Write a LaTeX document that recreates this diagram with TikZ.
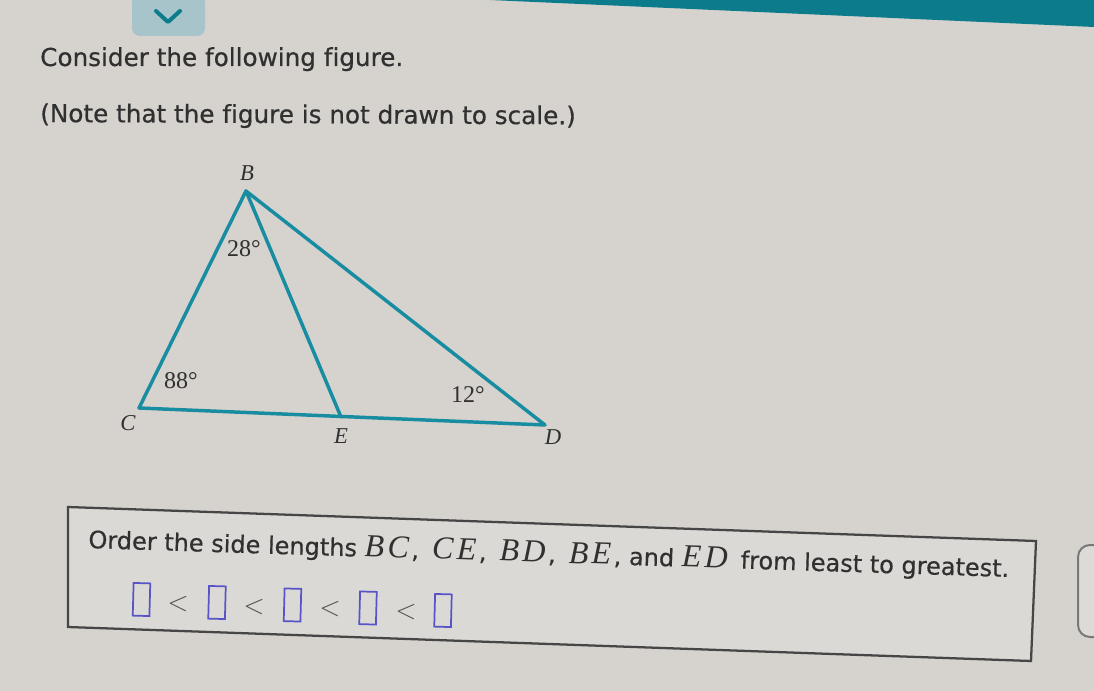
\documentclass[tikz,border=0pt]{standalone}
\usepackage{fontspec}
\setmainfont{Liberation Serif}
\newfontfamily\uifont{DejaVu Sans}[Ligatures=NoCommon, FakeBold=0.5]
\newfontfamily\lblfont{Liberation Serif}
\definecolor{bgc}{RGB}{214,211,207}
\definecolor{boxfillc}{RGB}{219,217,213}
\definecolor{tealbar}{RGB}{12,124,140}
\definecolor{tealline}{RGB}{24,140,160}
\definecolor{btnc}{RGB}{166,196,202}
\definecolor{txtc}{RGB}{48,48,48}
\definecolor{ansc}{RGB}{88,84,200}
\definecolor{boxline}{RGB}{70,70,70}
\definecolor{widgetc}{RGB}{120,120,120}
\newcommand\sidelbl[2]{{\lblfont\itshape\fontsize{24}{24}\selectfont #1\kern2.5pt #2\kern2pt}}
\begin{document}
\begin{tikzpicture}[x=0.75pt,y=0.75pt,
  edge/.style={draw=tealline, line width=2.6pt, line join=round, line cap=round},
  vlbl/.style={font=\lblfont\itshape\fontsize{17}{17}\selectfont, text=txtc, inner sep=0pt},
  anglbl/.style={font=\lblfont\fontsize{18}{18}\selectfont, text=txtc, inner sep=0pt},
  ui/.style={font=\uifont\fontsize{18.5}{18.5}\selectfont, text=txtc, inner sep=0pt},
  uibox/.style={font=\uifont\fontsize{18}{18}\selectfont, text=txtc, inner sep=0pt},
  ansbox/.style={draw=ansc, line width=1.3pt, minimum width=12.5pt, minimum height=24.5pt, inner sep=0pt, rotate=-1.5},
  ltsign/.style={font=\fontsize{21}{21}\selectfont, text=txtc!85, inner sep=0pt, rotate=-1.5}
]
\useasboundingbox (0,0) rectangle (1094,-691);
\fill[bgc] (0,0) rectangle (1094,-691);
% top teal bar
\fill[tealbar] (490,0) -- (1094,0) -- (1094,-27) -- cycle;
% chevron button
\fill[btnc, rounded corners=6pt] (132,6) rectangle (205,-36);
\draw[tealbar, line width=3pt, line cap=round, line join=round] (156,-11) -- (168,-22) -- (180,-11);
% header texts
\node[ui, anchor=base west] (t1) at (40,-66) {Consider the following figure.};
\node[ui, anchor=base west, rotate=-0.25] (t2) at (40,-122) {(Note that the figure is not drawn to scale.)};
% triangle
\coordinate (B) at (246,-191);
\coordinate (C) at (139,-408);
\coordinate (E) at (341,-417);
\coordinate (D) at (545,-425);
\draw[edge] (C) -- (B) -- (D) -- cycle;
\draw[edge] (B) -- (E);
\node[vlbl] (lB) at (247,-173) {B};
\node[vlbl] (lC) at (128,-423) {C};
\node[vlbl] (lE) at (341,-436) {E};
\node[vlbl] (lD) at (553,-437) {D};
\node[anglbl] (a28) at (244,-249) {28°};
\node[anglbl] (a88) at (181,-381) {88°};
\node[anglbl] (a12) at (468,-395) {12°};
% question box
\draw[boxline, line width=1.7pt, fill=boxfillc] (68,-507) -- (1036,-541) -- (1031,-661) -- (68,-627) -- cycle;
\node[uibox, anchor=base west, rotate=-1.8] (q) at (88,-548)
  {Order the side lengths \sidelbl{B}{C}, \hspace{4pt}\sidelbl{C}{E}, \hspace{4pt}\sidelbl{B}{D}, \hspace{4pt}\sidelbl{B}{E}, and \sidelbl{E}{D} \hspace{2pt}from least to greatest.};
% answer row
\node[ansbox] (b1) at (141.5,-599.5) {};
\node[ansbox] (b2) at (217,-602.5) {};
\node[ansbox] (b3) at (292.5,-605) {};
\node[ansbox] (b4) at (368,-608) {};
\node[ansbox] (b5) at (443,-610.5) {};
\node[ltsign] (l1) at (178,-604) {$<$};
\node[ltsign] (l2) at (254,-606.5) {$<$};
\node[ltsign] (l3) at (330,-609) {$<$};
\node[ltsign] (l4) at (406,-612) {$<$};
% right widget
\draw[widgetc, line width=1.5pt, fill=boxfillc!95!white, rounded corners=9pt] (1100,-545) -- (1078,-545) -- (1078,-637) -- (1100,-637);
\end{tikzpicture}
\end{document}
